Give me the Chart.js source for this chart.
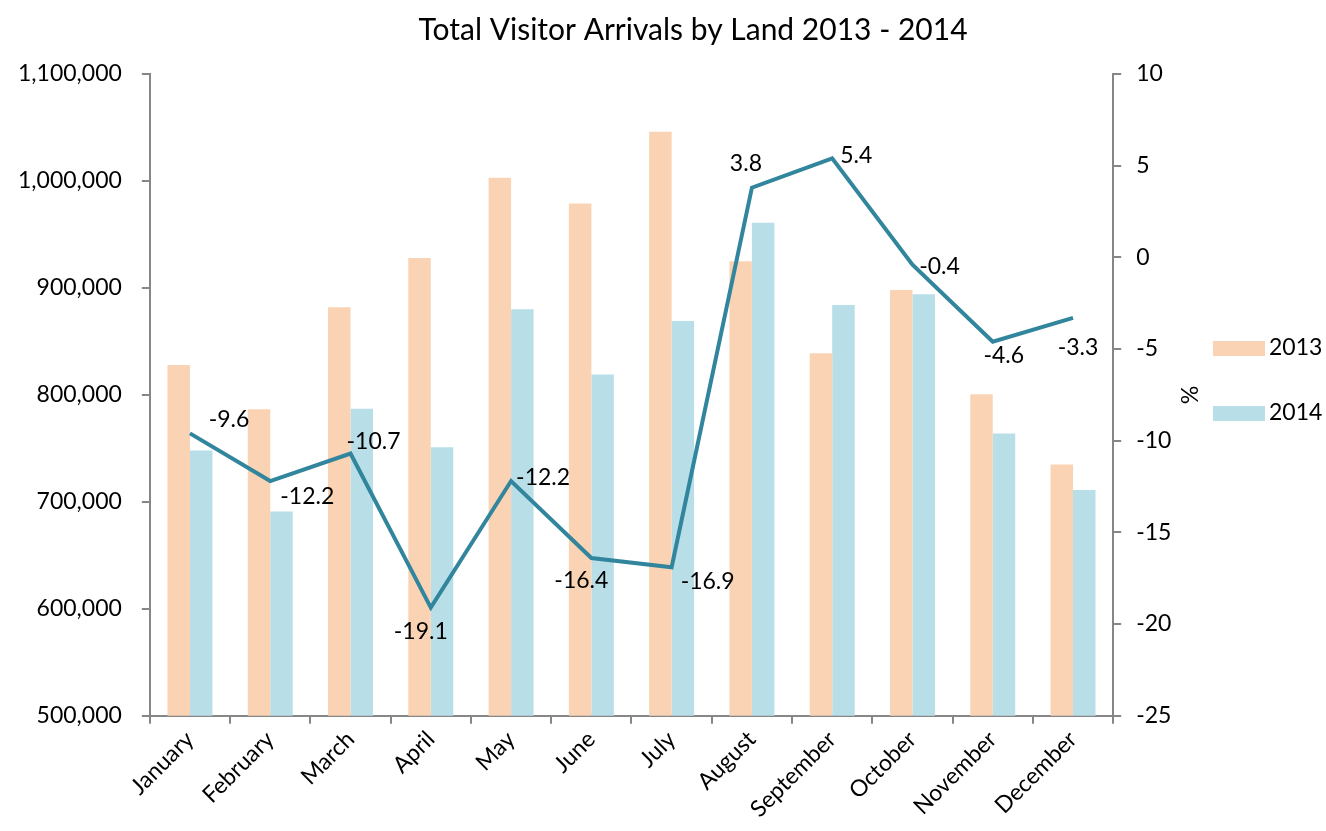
<!DOCTYPE html>
<html>
<head>
<meta charset="utf-8">
<script src="https://cdn.jsdelivr.net/npm/chart.js@4.4.1/dist/chart.umd.min.js"></script>
<style>
  html, body { margin: 0; padding: 0; background: #fff; }
  #wrap { width: 1326px; height: 831px; }
</style>
</head>
<body>
<div id="wrap"><canvas id="arrivalsChart" width="1326" height="831"></canvas></div>
<script>
// chart data
var months = ['January', 'February', 'March', 'April', 'May', 'June', 'July', 'August', 'September', 'October', 'November', 'December'];
var arrivals2013 = [828000, 786500, 882000, 928000, 1003000, 979000, 1046000, 925000, 839000, 898000, 800600, 735000];
var arrivals2014 = [748000, 691000, 787000, 751000, 880000, 819000, 869000, 961000, 884000, 894000, 764000, 711000];
var changePct = [-9.6, -12.2, -10.7, -19.1, -12.2, -16.4, -16.9, 3.8, 5.4, -0.4, -4.6, -3.3];
var leftTicks = [500000, 600000, 700000, 800000, 900000, 1000000, 1100000];
var rightTicks = [-25, -20, -15, -10, -5, 0, 5, 10];

var FONT = 'Lato, "Open Sans", sans-serif';
var COL_2013 = '#FAD3B4';
var COL_2014 = '#B8DEE8';

// where each % label sits relative to its point
var labelShift = [[39, -14], [37, 16], [23, -12], [-10, 24], [32, -3], [-10, 23],
                  [36, 14], [-6, -24], [24, -3], [27, 2], [11, 14], [5, 30]];

var pointLabels = {
    id: 'pointLabels',
    afterDatasetsDraw: function(chart) {
        var ctx = chart.ctx;
        var meta = chart.getDatasetMeta(2);
        ctx.save();
        ctx.font = '23px ' + FONT;
        ctx.fillStyle = '#000';
        ctx.textAlign = 'center';
        ctx.textBaseline = 'middle';
        meta.data.forEach(function(pt, i) {
            ctx.fillText(changePct[i].toFixed(1), pt.x + labelShift[i][0], pt.y + labelShift[i][1]);
        });
        ctx.restore();
    }
};

// title + legend on the right (bars only)
var extras = {
    id: 'extras',
    afterDraw: function(chart) {
        var ctx = chart.ctx;
        ctx.save();
        ctx.fillStyle = '#000';
        ctx.font = '30px ' + FONT;
        ctx.textAlign = 'center';
        ctx.textBaseline = 'middle';
        ctx.fillText('Total Visitor Arrivals by Land 2013 - 2014', 693, 30);

        var items = [['2013', COL_2013, 348], ['2014', COL_2014, 413]];
        ctx.font = '23px ' + FONT;
        ctx.textAlign = 'left';
        items.forEach(function(it) {
            ctx.fillStyle = it[1];
            ctx.fillRect(1213, it[2] - 7, 52, 15);
            ctx.fillStyle = '#000';
            ctx.fillText(it[0], 1269, it[2]);
        });
        ctx.restore();
    }
};

var ctx = document.getElementById('arrivalsChart').getContext('2d');
var arrivalsChart = new Chart(ctx, {
    type: 'bar',
    data: {
        labels: months,
        datasets: [{
            label: '2013',
            data: arrivals2013,
            backgroundColor: COL_2013,
            yAxisID: 'y',
            order: 1
        }, {
            label: '2014',
            data: arrivals2014,
            backgroundColor: COL_2014,
            yAxisID: 'y',
            order: 1
        }, {
            type: 'line',
            label: '%',
            data: changePct,
            borderColor: '#31859C',
            borderWidth: 4,
            pointRadius: 0,
            tension: 0,
            yAxisID: 'y1',
            order: 0
        }]
    },
    options: {
        responsive: false,
        animation: false,
        events: [],
        layout: { padding: { left: -2, right: 117, top: 74, bottom: 6 } },
        datasets: { bar: { categoryPercentage: 0.56, barPercentage: 1 } },
        plugins: {
            title: { display: false },
            legend: { display: false },
            tooltip: { enabled: false }
        },
        scales: {
            x: {
                grid: { display: true, drawOnChartArea: false, offset: true, tickLength: 8, color: '#868686', lineWidth: 2 },
                border: { color: '#868686', width: 2 },
                ticks: { color: '#000', font: { family: FONT, size: 23 }, maxRotation: 45, minRotation: 45, padding: 2 }
            },
            y: {
                position: 'left',
                min: 500000,
                max: 1100000,
                afterBuildTicks: function(axis) { axis.ticks = leftTicks.map(function(v) { return { value: v }; }); },
                grid: { drawOnChartArea: false, tickLength: 8, color: '#868686', lineWidth: 2 },
                border: { color: '#868686', width: 2 },
                ticks: {
                    color: '#000',
                    font: { family: FONT, size: 23 },
                    padding: 20,
                    callback: function(v) { return v.toLocaleString('en-US'); }
                }
            },
            y1: {
                position: 'right',
                min: -25,
                max: 10,
                afterBuildTicks: function(axis) { axis.ticks = rightTicks.map(function(v) { return { value: v }; }); },
                grid: { drawOnChartArea: false, tickLength: 8, color: '#868686', lineWidth: 2 },
                border: { color: '#868686', width: 2 },
                title: { display: true, text: '%', color: '#000', font: { family: FONT, size: 23 }, padding: { top: 7, bottom: -12 } },
                ticks: { color: '#000', font: { family: FONT, size: 23 }, padding: 15 }
            }
        }
    },
    plugins: [pointLabels, extras]
});
</script>
</body>
</html>
